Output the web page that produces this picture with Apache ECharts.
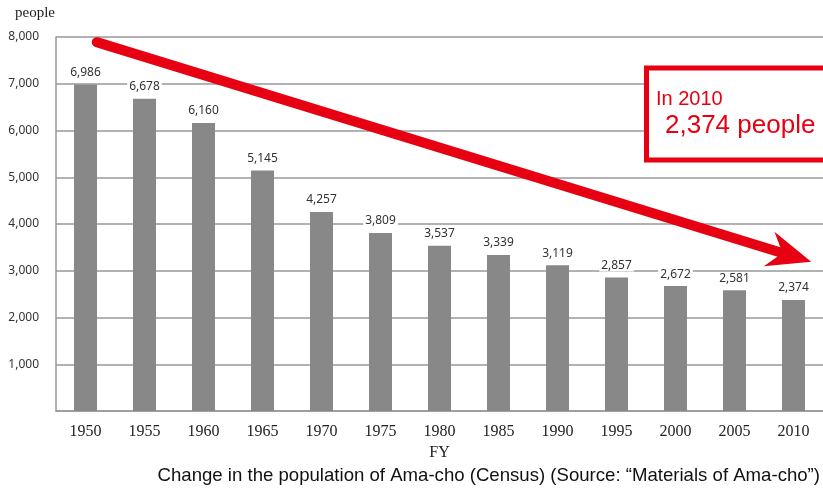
<!DOCTYPE html>
<html>
<head>
<meta charset="utf-8">
<script src="https://cdn.jsdelivr.net/npm/echarts@6/dist/echarts.min.js"></script>
<style>
  html, body { margin: 0; padding: 0; background: #fff; }
  #chart { width: 823px; height: 488px; }
</style>
</head>
<body>
<div id="chart"></div>
<script>
const years = ['1950', '1955', '1960', '1965', '1970', '1975', '1980', '1985', '1990', '1995', '2000', '2005', '2010']
const population = [6986, 6678, 6160, 5145, 4257, 3809, 3537, 3339, 3119, 2857, 2672, 2581, 2374]
// trend arrow, in (category index, people)
const arrowFrom = [0.19, 7890]
const arrowTo = [12.3, 3190]

const chart = echarts.init(document.getElementById('chart'))

// red arrow: shaft + notched head
function renderArrow(params, api) {
  const p0 = api.coord([api.value(0), api.value(1)])
  const p1 = api.coord([api.value(2), api.value(3)])
  const dx = p1[0] - p0[0]
  const dy = p1[1] - p0[1]
  const len = Math.sqrt(dx * dx + dy * dy)
  const ux = dx / len, uy = dy / len
  const nx = -uy, ny = ux
  const headLen = 44, halfW = 18, notch = 30
  const pt = (a, b) => [p1[0] - ux * a + nx * b, p1[1] - uy * a + ny * b]
  const base = pt(notch + 2, 0)
  return {
    type: 'group',
    children: [{
      type: 'line',
      shape: { x1: p0[0], y1: p0[1], x2: base[0], y2: base[1] },
      style: { stroke: '#e60012', lineWidth: 10, lineCap: 'round' }
    }, {
      type: 'polygon',
      shape: { points: [p1, pt(headLen, -halfW), pt(notch, 0), pt(headLen, halfW)] },
      style: { fill: '#e60012' }
    }]
  }
}

chart.setOption({
  animation: false,
  grid: {
    left: 56,
    right: -4,
    top: 37,
    bottom: 77
  },
  xAxis: [{
    type: 'category',
    data: years,
    name: 'FY',
    nameLocation: 'middle',
    nameGap: 33,
    nameTextStyle: { fontFamily: 'Liberation Serif', fontSize: 16, color: '#222' },
    axisLine: { lineStyle: { color: '#999', width: 1.5 } },
    axisTick: { inside: true, length: 4, lineStyle: { color: '#999' } },
    axisLabel: { fontFamily: 'Liberation Serif', fontSize: 16, color: '#222', margin: 13 }
  }, {
    type: 'value',
    min: -0.5,
    max: 12.5,
    show: false
  }],
  yAxis: {
    type: 'value',
    min: 0,
    max: 8000,
    interval: 1000,
    axisLine: { show: true, onZero: false, lineStyle: { color: '#999', width: 1.5 } },
    axisTick: { show: false },
    splitLine: { lineStyle: { color: '#999', width: 1.5 } },
    axisLabel: {
      fontFamily: 'Noto Sans',
      fontSize: 12,
      color: '#333',
      margin: 17,
      formatter: v => v === 0 ? '' : v.toLocaleString('en-US')
    }
  },
  series: [{
    type: 'bar',
    data: population,
    barWidth: 23,
    itemStyle: { color: '#888888' },
    label: {
      show: true,
      position: 'top',
      distance: 6,
      fontFamily: 'Noto Sans',
      fontSize: 12,
      color: '#333',
      backgroundColor: '#fff',
      padding: [0, 2],
      formatter: p => p.value.toLocaleString('en-US')
    }
  }, {
    type: 'custom',
    xAxisIndex: 1,
    silent: true,
    renderItem: renderArrow,
    encode: { x: [0, 2], y: [1, 3] },
    data: [[arrowFrom[0], arrowFrom[1], arrowTo[0], arrowTo[1]]],
    z: 5
  }],
  graphic: [{
    type: 'text',
    x: 15,
    y: 6,
    style: { text: 'people', fill: '#222', font: '15px "Liberation Serif"' }
  }, {
    type: 'rect',
    shape: { x: 646.5, y: 68, width: 200, height: 92 },
    style: { fill: '#fff', stroke: '#e60012', lineWidth: 5 },
    z: 100
  }, {
    type: 'text',
    x: 656,
    y: 89,
    style: { text: 'In 2010', fill: '#e60012', font: '20px "Liberation Sans"' },
    z: 101
  }, {
    type: 'text',
    x: 665,
    y: 113,
    style: { text: '2,374 people', fill: '#e60012', font: '26px "Liberation Sans"' },
    z: 101
  }, {
    type: 'text',
    right: 3,
    top: 466,
    style: {
      text: 'Change in the population of Ama-cho (Census) (Source: \u201cMaterials of Ama-cho\u201d)',
      fill: '#111',
      font: '18.6px "Liberation Sans"'
    }
  }]
})
</script>
</body>
</html>
